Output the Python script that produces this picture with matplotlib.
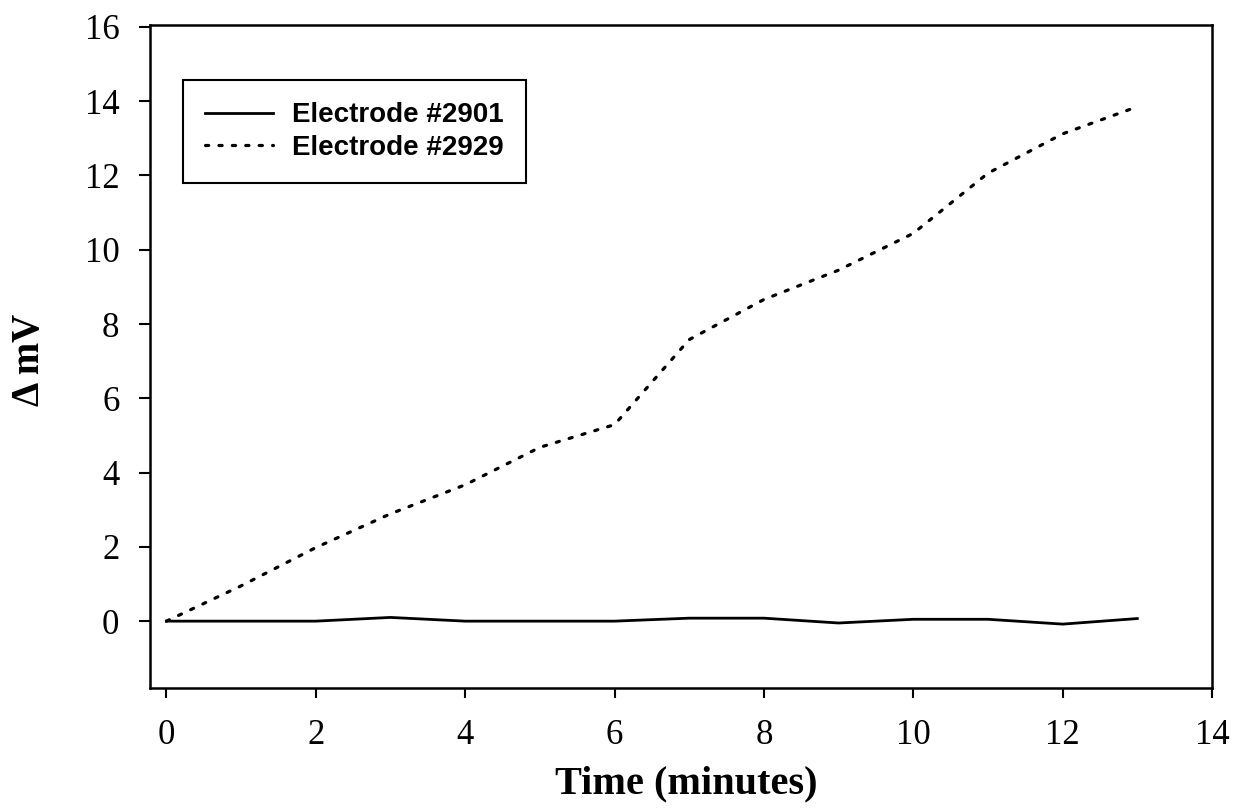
import matplotlib
matplotlib.use("Agg")
import matplotlib.pyplot as plt

# Data
time_min = [0, 1, 2, 3, 4, 5, 6, 7, 8, 9, 10, 11, 12, 13]
electrode_2901 = [0.0, 0.0, 0.0, 0.1, 0.0, 0.0, 0.0, 0.08, 0.08, -0.05, 0.05, 0.05, -0.08, 0.07]
electrode_2929 = [0.0, 0.95, 1.98, 2.89, 3.67, 4.68, 5.29, 7.58, 8.66, 9.45, 10.44, 12.06, 13.12, 13.85]
series_labels = ["Electrode #2901", "Electrode #2929"]
x_ticks = [0, 2, 4, 6, 8, 10, 12, 14]
y_ticks = [0, 2, 4, 6, 8, 10, 12, 14, 16]

fig = plt.figure(figsize=(12.36, 8.10), dpi=100)
ax = fig.add_axes([150/1236, 1-688/810, (1212-150)/1236, (688-25)/810])

ax.plot(time_min, electrode_2901, color="black", lw=2.0, label=series_labels[0])
ax.plot(time_min, electrode_2929, color="black", lw=2.3, linestyle=(0, (1, 3.2)),
        dash_capstyle="round", label=series_labels[1])

ax.set_xlim(-0.22, 14.0)
ax.set_ylim(-1.8, 16.05)
ax.set_xticks(x_ticks)
ax.set_yticks(y_ticks)

serif = ["Liberation Serif", "DejaVu Serif"]
for lab in ax.get_xticklabels() + ax.get_yticklabels():
    lab.set_fontfamily(serif)
    lab.set_fontsize(25)
ax.tick_params(axis="x", direction="out", length=7, width=1.5, pad=15)
ax.tick_params(axis="y", direction="out", length=8, width=1.5, pad=14)
for sp in ax.spines.values():
    sp.set_linewidth(1.8)

ax.set_xlabel("Time (minutes)", fontfamily=serif, fontsize=29, fontweight="bold")
ax.xaxis.set_label_coords((686-150)/1062, (688-784)/663)
ax.xaxis.label.set_va("center")
ax.set_ylabel("\u0394 mV", fontfamily=serif, fontsize=28, fontweight="bold")
ax.yaxis.set_label_coords((29-150)/1062, (688-360)/663)
ax.yaxis.label.set_va("center")

leg = ax.legend(loc="upper left", bbox_to_anchor=(183/1236, 1-80/810),
                bbox_transform=fig.transFigure, frameon=True, fancybox=False,
                edgecolor="black", framealpha=1, borderpad=0.8, handlelength=2.45,
                handletextpad=0.68, labelspacing=0.25, borderaxespad=0,
                prop={"family": "Liberation Sans", "size": 20, "weight": "bold"})
leg.get_frame().set_linewidth(1.5)

fig.savefig("out.png", dpi=100)
